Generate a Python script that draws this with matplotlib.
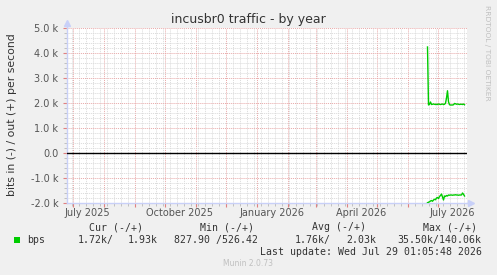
import matplotlib
matplotlib.use("Agg")
import matplotlib.pyplot as plt
import matplotlib.dates as mdates
import matplotlib.ticker as mticker
import pandas as pd
import numpy as np

# ---------------- data ----------------
title = "incusbr0 traffic - by year"
ylabel = "bits in (-) / out (+) per second"
x_start = "2025-06-25"
x_end = "2026-07-30"
data_start = "2026-06-21"
out_vals = [4240, 1920, 1950, 2040, 1940, 1950, 1960, 1950, 1940, 1950,
            1940, 1960, 1950, 1940, 1950, 1960, 1940, 1950, 1990, 2200,
            2490, 2050, 1930, 1920, 1920, 1920, 1930, 1980, 1970, 1950,
            1960, 1950, 1940, 1950, 1950, 1940, 1960, 1930]
in_vals = [1990, 1970, 1950, 1920, 1900, 1930, 1880, 1850, 1870, 1800,
           1780, 1820, 1740, 1700, 1640, 1760, 1880, 1720, 1740, 1700,
           1720, 1680, 1690, 1680, 1680, 1690, 1680, 1680, 1670, 1680,
           1680, 1690, 1680, 1680, 1680, 1600, 1650, 1720]
month_labels = ["July 2025", "October 2025", "January 2026", "April 2026", "July 2026"]
month_label_dates = ["2025-07-16", "2025-10-16", "2026-01-16", "2026-04-16", "2026-07-16"]
legend_headers = ["Cur (-/+)", "Min (-/+)", "Avg (-/+)", "Max (-/+)"]
series_name = "bps"
cur_vals = ["1.72k/", "1.93k"]
min_vals = ["827.90 /526.42"]
avg_vals = ["1.76k/", "2.03k"]
max_vals = ["35.50k/140.06k"]
last_update = "Last update: Wed Jul 29 01:05:48 2026"
footer = "Munin 2.0.73"
side_text = "RRDTOOL / TOBI OETIKER"

W, H = 497, 275
BG = "#F0F0F0"
GREEN = "#00CC00"
AXIS_BLUE = "#C8D0F8"
MAJ = "#E8A8A8"
MIN = "#DADADA"
TXT = "#333333"
TICK_TXT = "#555555"

def px(x, y):
    return x / W, 1 - y / H

fig = plt.figure(figsize=(W / 100, H / 100), dpi=100, facecolor=BG)
l, b = px(66.5, 203)
ax = fig.add_axes([l, b, 400 / W, 175 / H], facecolor="white")

dates = pd.date_range(data_start, periods=len(out_vals), freq="D")
ax.plot(dates, out_vals, color=GREEN, lw=1.0, zorder=5)
ax.plot(dates, -np.array(in_vals), color=GREEN, lw=1.0, zorder=5)
ax.axhline(0, color="black", lw=1.0, zorder=4)

ax.set_xlim(pd.Timestamp(x_start), pd.Timestamp(x_end))
ax.set_ylim(-2000, 5000)

ax.yaxis.set_major_locator(mticker.MultipleLocator(1000))
ax.yaxis.set_minor_locator(mticker.MultipleLocator(200))
ax.yaxis.set_major_formatter(mticker.FuncFormatter(
    lambda v, p: "0.0" if abs(v) < 1e-9 else f"{v/1000:.1f} k"))
ax.xaxis.set_major_locator(mdates.MonthLocator())
ax.xaxis.set_minor_locator(mdates.WeekdayLocator(byweekday=mdates.MO))
ax.xaxis.set_major_formatter(mticker.NullFormatter())

dot = (0, (1, 1))
ax.grid(which="major", color=MAJ, lw=0.7, linestyle=dot, zorder=1)
ax.grid(which="minor", color=MIN, lw=0.7, linestyle=dot, zorder=0)
ax.set_axisbelow(True)

ax.tick_params(axis="both", which="major", length=3, width=0.8, color="#E08080",
               labelsize=7, labelcolor=TICK_TXT, pad=3)
ax.tick_params(axis="both", which="minor", length=2, width=0.7, color="#C0C0C0")

for s in ["top", "right"]:
    ax.spines[s].set_visible(False)
for s in ["left", "bottom"]:
    ax.spines[s].set_color(AXIS_BLUE)
    ax.spines[s].set_linewidth(1.0)

# axis arrows
ax.plot([0, 0], [1, 1.03], transform=ax.transAxes, color=AXIS_BLUE, lw=1, clip_on=False)
ax.plot([0], [1.03], marker="^", ms=4, color=AXIS_BLUE, transform=ax.transAxes, clip_on=False)
ax.plot([1, 1.01], [0, 0], transform=ax.transAxes, color=AXIS_BLUE, lw=1, clip_on=False)
ax.plot([1.012], [0], marker=">", ms=4, color=AXIS_BLUE, transform=ax.transAxes, clip_on=False)

# month labels
for lab, d in zip(month_labels, month_label_dates):
    ax.text(pd.Timestamp(d), -0.055, lab, transform=ax.get_xaxis_transform(),
            ha="center", va="center", fontsize=7, color=TICK_TXT)

fig.text(*px(248, 19), title, ha="center", va="center", fontsize=9, color=TXT)
fig.text(*px(12, 115), ylabel, ha="center", va="center", rotation=90, fontsize=7.8, color=TXT)
fig.text(*px(487, 52.5), side_text, ha="center", va="center", rotation=270,
         fontsize=5.4, color="#C0C0C0")

mono = dict(family="DejaVu Sans Mono", fontsize=7.1, color=TXT, va="center", ha="left")
for h, x in zip(legend_headers, [89, 200, 312, 423]):
    fig.text(*px(x, 227), h, **mono)
fig.patches.append(plt.Rectangle(px(14, 243), 6 / W, 6 / H, transform=fig.transFigure,
                                 facecolor=GREEN, edgecolor="none"))
fig.text(*px(27, 240), series_name, **mono)
fig.text(*px(78, 240), cur_vals[0], **mono)
fig.text(*px(128, 240), cur_vals[1], **mono)
fig.text(*px(174, 240), min_vals[0], **mono)
fig.text(*px(295, 240), avg_vals[0], **mono)
fig.text(*px(346, 240), avg_vals[1], **mono)
fig.text(*px(397, 240), max_vals[0], **mono)
fig.text(*px(482, 252), last_update, **{**mono, "ha": "right"})
fig.text(*px(248, 264), footer, ha="center", va="center", fontsize=5.5, color="#C0C0C0")

fig.savefig("out.png", dpi=100, facecolor=BG)
